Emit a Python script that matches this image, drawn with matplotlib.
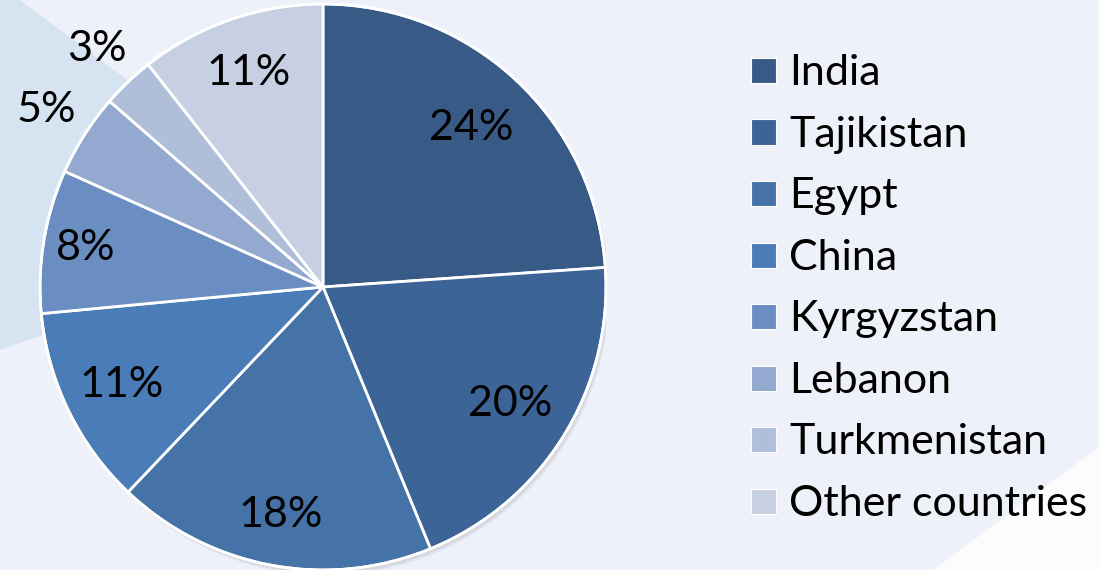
import numpy as np
import matplotlib
matplotlib.use("Agg")
import matplotlib.pyplot as plt
from matplotlib.patches import Polygon, Rectangle, Circle

categories = ["India", "Tajikistan", "Egypt", "China", "Kyrgyzstan",
              "Lebanon", "Turkmenistan", "Other countries"]
shares = [23.9, 19.9, 18.3, 11.4, 8.2, 4.7, 3.0, 10.6]
colors = ["#375A87", "#3D6496", "#4572A7", "#4A7CB8", "#6A8DC2",
          "#94A9CF", "#AFBFDA", "#C7CFE2"]
label_dist = [0.77, 0.78, 0.82, 0.79, 0.85, 1.16, 1.16, 0.80]

plt.rcParams['font.family'] = ['Lato', 'DejaVu Sans']

W, H = 1099, 570
fig = plt.figure(figsize=(W / 100, H / 100), dpi=100)
fig.patch.set_facecolor("#EEF1F9")

def fx(x):
    return x / W

def fy(y):
    return 1 - y / H

# background shapes
fig.patches.append(Polygon([(fx(0), fy(0)), (fx(20), fy(0)), (fx(333), fy(233)), (fx(0), fy(350))],
                           closed=True, transform=fig.transFigure, facecolor="#D6E3F0",
                           edgecolor="none", zorder=-5))
fig.patches.append(Polygon([(fx(1099), fy(447)), (fx(1099), fy(570)), (fx(933), fy(570))],
                           closed=True, transform=fig.transFigure, facecolor="#FCFCFD",
                           edgecolor="none", zorder=-5))

cx, cy, R = 323, 287, 283
ax = fig.add_axes([fx(cx - R), fy(cy + R), 2 * R / W, 2 * R / H], zorder=1)
ax.axis("off")
ax.patch.set_alpha(0)

# soft shadow
for i, a in enumerate([0.05, 0.05, 0.05]):
    ax.add_patch(Circle((0.004 * (i + 1), -0.006 * (i + 1)), 1.0, facecolor="#000000",
                        alpha=a, edgecolor="none", zorder=0))

wedges, _ = ax.pie(shares, colors=colors, startangle=90, counterclock=False,
                   radius=1.0, wedgeprops=dict(edgecolor="white", linewidth=2),
                   normalize=True)
ax.add_patch(Circle((0, 0), 1.0, facecolor="none", edgecolor="white", linewidth=2, zorder=5))
ax.set_xlim(-1, 1)
ax.set_ylim(-1, 1)
ax.set_aspect("equal")

for w, v, d in zip(wedges, shares, label_dist):
    ang = np.deg2rad((w.theta1 + w.theta2) / 2)
    ax.text(d * np.cos(ang), d * np.sin(ang), f"{round(v)}%", ha="center", va="center",
            fontsize=31, color="black", zorder=6, clip_on=False)

# legend
row0 = 70
step = 61.5
for i, lab in enumerate(categories):
    yc = row0 + i * step
    fig.patches.append(Rectangle((fx(751), fy(yc + 13)), 25 / W, 25 / H,
                                 transform=fig.transFigure, facecolor=colors[i],
                                 edgecolor="white", linewidth=0.8, zorder=3))
    fig.text(fx(789), fy(yc), lab, ha="left", va="center_baseline", fontsize=31, color="black")

fig.savefig("out.png", dpi=100, facecolor=fig.get_facecolor())
